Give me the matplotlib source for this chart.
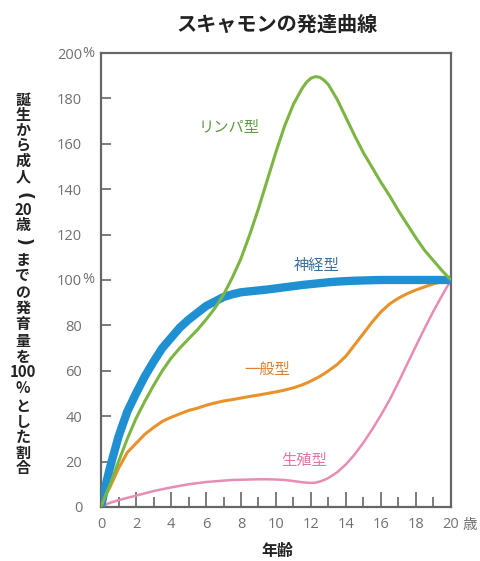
import matplotlib
matplotlib.use("Agg")
import matplotlib.pyplot as plt

plt.rcParams['font.family'] = ['Noto Sans CJK JP', 'DejaVu Sans']

# Age in years
age = [0, 0.25, 0.5, 1, 1.5, 2, 2.5, 3, 3.5, 4, 4.5, 5, 5.5, 6, 6.5, 7, 7.5,
       8, 8.5, 9, 9.5, 10, 10.5, 11, 11.5, 11.75, 12, 12.25, 12.5, 12.75, 13,
       13.5, 14, 14.5, 15, 15.5, 16, 16.5, 17, 17.5, 18, 18.5, 19, 19.5, 20]

# Growth relative to the adult (age 20) value, in percent
lymphoid = [0, 5, 9.5, 20, 30, 39, 46.5, 53.5, 60, 65.5, 70, 74, 78, 82.5,
            87.5, 93.5, 101, 109.5, 120, 131.5, 144, 156.5, 168, 177.5, 184.5,
            187.2, 188.9, 189.6, 189.3, 188, 186, 179.5, 171.5, 163.5, 156,
            149.5, 143, 137, 130.5, 124.5, 118.5, 113, 108.5, 104, 100]
neural = [0, 9, 17, 31, 42, 50, 57.5, 64, 70, 74.5, 79, 82.5, 85.5, 88.5,
          90.5, 92.5, 93.7, 94.6, 95.0, 95.4, 95.8, 96.3, 96.8, 97.3, 97.8,
          98.0, 98.2, 98.4, 98.6, 98.8, 99.0, 99.3, 99.5, 99.7, 99.8, 99.9,
          100, 100, 100, 100, 100, 100, 100, 100, 100]
general = [0, 5, 8.5, 17, 24, 28, 32, 35, 37.7, 39.5, 41, 42.5, 43.5, 44.8,
           45.8, 46.7, 47.3, 48, 48.7, 49.3, 50, 50.7, 51.5, 52.5, 53.8, 54.6,
           55.5, 56.5, 57.5, 58.7, 60, 62.8, 66.5, 71.5, 76.5, 81.5, 86, 89.5,
           92, 94, 95.6, 97, 98.3, 99.3, 100]
reproductive = [0, 1, 1.8, 3, 4, 5, 6, 7, 7.8, 8.6, 9.3, 10, 10.5, 11, 11.3,
                11.6, 11.9, 12, 12.1, 12.2, 12.2, 12.1, 11.9, 11.4, 10.9, 10.7,
                10.6, 10.7, 11.2, 11.9, 12.8, 15.3, 18.8, 23.2, 28.4, 34.2,
                40.5, 47.3, 55, 63, 71, 78.8, 86.3, 93.3, 100]

series_names = ['リンパ型', '神経型', '一般型', '生殖型']
label_pos = [(7.3, 167), (12.3, 106.5), (9.5, 60.5), (11.6, 20.5)]

x_ticks = list(range(0, 21, 2))
x_minor = list(range(1, 20, 2))
y_ticks = list(range(0, 201, 20))
y_labels = ['0', '20', '40', '60', '80', '100', '120', '140', '160', '180', '200']

line_colors = ['#7db543', '#1f90d2', '#e8922c', '#e68cb5']
text_colors = ['#5f9a44', '#3b6f9e', '#db8030', '#de78a6']
widths = [2.2, 6.0, 2.2, 1.8]
zorders = [4, 3, 2, 2]

tick_font = ['Open Sans', 'DejaVu Sans']
tick_c = '#707070'

fig = plt.figure(figsize=(4.81, 5.61), dpi=100)
ax = fig.add_axes([0.21, 0.0963, 0.7276, 0.8092])

for ys, c, w, z in zip([lymphoid, neural, general, reproductive],
                       line_colors, widths, zorders):
    ax.plot(age, ys, color=c, lw=w, zorder=z, solid_capstyle='butt',
            solid_joinstyle='round')

for name, (lx, ly), tc in zip(series_names, label_pos, text_colors):
    ax.text(lx, ly, name, color=tc, fontsize=11, ha='center', va='center')

ax.set_xlim(0, 20)
ax.set_ylim(0, 200)

spine_c = '#666666'
for s in ax.spines.values():
    s.set_color(spine_c)
    s.set_linewidth(1.6)

ax.set_xticks(x_ticks)
ax.set_xticks(x_minor, minor=True)
ax.set_xticklabels([str(t) for t in x_ticks], family=tick_font)
ax.set_yticks(y_ticks)
ax.set_yticklabels(y_labels, family=tick_font)

ax.tick_params(axis='x', which='major', direction='in', length=10.5,
               width=1.2, color=spine_c, labelsize=10.5, labelcolor=tick_c,
               pad=7.5)
ax.tick_params(axis='x', which='minor', direction='in', length=7,
               width=1.2, color=spine_c)
ax.tick_params(axis='y', which='major', direction='in', length=7,
               width=1.2, color=spine_c, labelsize=10.5, labelcolor=tick_c,
               pad=13.5)

# percent signs after 100 and 200
for v in (100, 200):
    ax.annotate('%', xy=(0, v), xycoords=ax.get_yaxis_transform(),
                xytext=(-13.5, 0), textcoords='offset points',
                ha='left', va='center', fontsize=10.5, color=tick_c,
                family=tick_font, annotation_clip=False)

fig.text(470 / 481, 1 - 525 / 561, '歳', fontsize=10.5, color=tick_c,
         ha='center', va='center')

fig.text(277 / 481, 1 - 24 / 561, 'スキャモンの発達曲線', fontsize=14.5,
         fontweight='bold', ha='center', va='center', color='#222222')

fig.text(277 / 481, 1 - 551 / 561, '年齢', fontsize=11.5,
         fontweight='bold', ha='center', va='center', color='#222222')

# vertical (tategaki) y-axis caption, one glyph group per row;
# the round brackets are turned sideways as in vertical writing
ylab = ['誕', '生', 'か', 'ら', '成', '人', '(', '20', '歳', ')', 'ま', 'で',
        'の', '発', '育', '量', 'を', '100', '%', 'と', 'し', 'た', '割', '合']
row_px = [100, 115, 130, 145, 161, 176, 196, 210, 225, 242, 260, 275, 292,
          308, 324, 341, 357, 372, 388, 406, 422, 437, 453, 468]
for ch, py in zip(ylab, row_px):
    is_bracket = ch in ('(', ')')
    fig.text(23 / 481, 1 - py / 561, ch,
             fontsize=12.5 if is_bracket else 10.8,
             rotation=-90 if is_bracket else 0,
             family=['DejaVu Sans'] if is_bracket else None,
             fontweight='bold', ha='center', va='center', color='#222222')

fig.savefig('out.png', dpi=100)
